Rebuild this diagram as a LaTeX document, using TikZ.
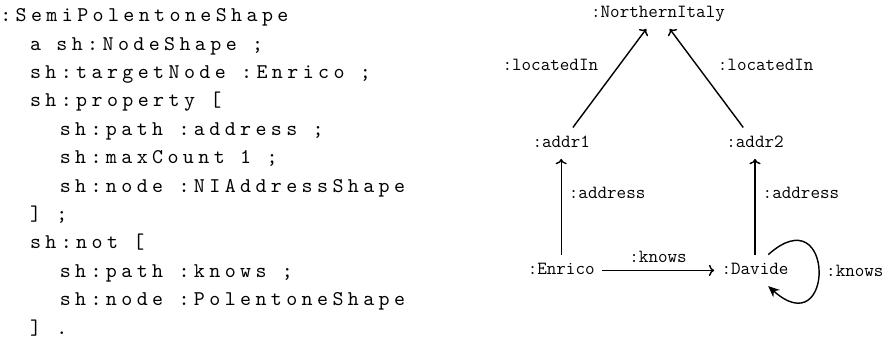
\documentclass[tikz,border=0pt]{standalone}
\usepackage{fontspec}
\usetikzlibrary{arrows.meta, positioning}
\newfontfamily\codefont{lmmono10-regular.otf}[LetterSpace=21]

\tikzset{
  code/.style={anchor=base west, inner sep=0pt,
    font=\codefont\fontsize{14.9pt}{17pt}\selectfont},
  res/.style={font=\ttfamily\fontsize{13.2pt}{16pt}\selectfont, inner sep=5pt,
    text height=9pt, text depth=3pt},
  lbl/.style={font=\ttfamily\fontsize{13.2pt}{16pt}\selectfont, inner sep=5pt},
  rel/.style={->, line width=1pt},
}

\begin{document}
\begin{tikzpicture}
    \useasboundingbox (0,0) rectangle (22.3,-8.55);

    % Shape in Turtle
    \foreach \ind/\txt [count=\i] in {0/{:SemiPolentoneShape}, 2/{a sh:NodeShape ;},
        2/{sh:targetNode :Enrico ;}, 2/{sh:property [}, 4/{sh:path :address ;},
        4/{sh:maxCount 1 ;}, 4/{sh:node :NIAddressShape}, 2/{] ;}, 2/{sh:not [},
        4/{sh:path :knows ;}, 4/{sh:node :PolentoneShape}, 2/{] .}}
        \node[code] (line\i) at ({0.0+\ind*0.372}, {-0.5425-(\i-1)*0.71}) {\txt};

    % Data graph
    \node[res] (ni) at (16.45,-0.33) {:NorthernItaly};
    \node[res] (addr1) at (14.03,-3.58) {:addr1};
    \node[res] (addr2) at (18.875,-3.58) {:addr2};
    \node[res] (enrico) at (14.03,-6.76) {:Enrico};
    \node[res] (davide) at (18.875,-6.76) {:Davide};

    \draw[rel] (addr1) -- (ni) node[lbl, pos=0.64, anchor=east, xshift=-0.35cm] {:locatedIn};
    \draw[rel] (addr2) -- (ni) node[lbl, pos=0.64, anchor=west, xshift=0.35cm] {:locatedIn};
    \draw[rel] (enrico) -- (addr1) node[lbl, pos=0.646, anchor=west] {:address};
    \draw[rel] (davide) -- (addr2) node[lbl, pos=0.646, anchor=west] {:address};
    \draw[rel] (enrico) -- (davide) node[lbl, midway, above] {:knows};
    \draw[line width=1pt, -{Stealth[length=8pt, width=7pt]}] (davide.50)
        .. controls +(1.675,1.5) and +(1.675,-1.5) .. (davide.-50)
        node[lbl, pos=0.5, anchor=west] {:knows};
\end{tikzpicture}
\end{document}
